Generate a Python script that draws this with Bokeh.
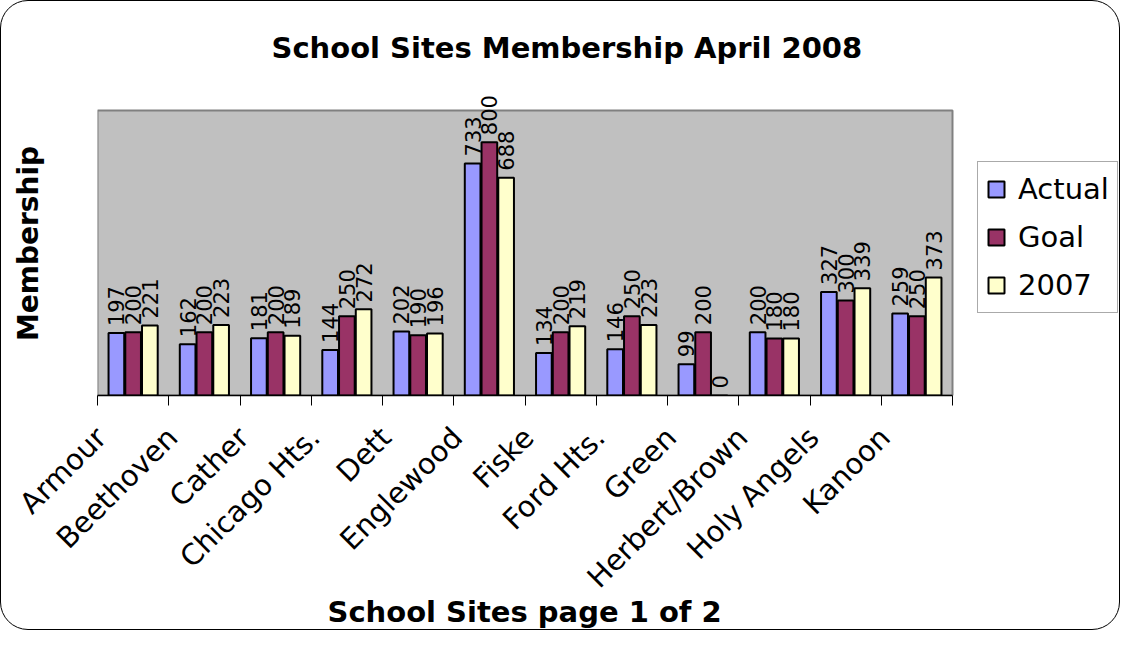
import math
from bokeh.plotting import figure
from bokeh.models import (Range1d, FixedTicker, LinearAxis, ColumnDataSource, LabelSet,
                          Legend, LegendItem, Title)
from bokeh.core.properties import value
from bokeh.embed import file_html
from bokeh.resources import INLINE

# ---- data ----
schools = ["Armour", "Beethoven", "Cather", "Chicago Hts.", "Dett", "Englewood",
           "Fiske", "Ford Hts.", "Green", "Herbert/Brown", "Holy Angels", "Kanoon"]
actual = [197, 162, 181, 144, 202, 733, 134, 146, 99, 200, 327, 259]
goal = [200, 200, 200, 250, 190, 800, 200, 250, 200, 180, 300, 250]
y2007 = [221, 223, 189, 272, 196, 688, 219, 223, 0, 180, 339, 373]
series_names = ["Actual", "Goal", "2007"]
series_values = [actual, goal, y2007]
series_colors = ["#9999FF", "#993366", "#FFFFCC"]

title_text = "School Sites Membership April 2008"
x_title = "School Sites page 1 of 2"
y_title = "Membership"
y_axis_max = 900      # top of the grey plot area
y_view_max = 960      # head-room so the "800" label is not clipped

# layout (pixels)
W, H = 1120, 630
left_px, top_px, bottom_px = 96, 88, 236
area_px = 855                      # width of the grey plot area
frame_px = W - left_px             # frame runs to the right edge (legend lives there)

n = len(schools)
x_view_max = n * frame_px / area_px
centers = [i + 0.5 for i in range(n)]
bar_w = 0.22
step = 0.235
label_shift = 0.45   # category text sits a bit left of the category centre

p = figure(width=W, height=H, x_range=Range1d(0, x_view_max), y_range=Range1d(0, y_view_max),
           output_backend="svg", toolbar_location=None, x_axis_location=None,
           min_border_left=left_px, min_border_right=0, min_border_top=top_px,
           min_border_bottom=bottom_px,
           background_fill_color=None, border_fill_color=None, outline_line_color=None)
p.styles = {"border": "1px solid #000000", "border-radius": "28px",
            "background-color": "white", "overflow": "hidden"}

p.xgrid.visible = False
p.ygrid.visible = False

# grey plot area
p.quad(left=[0], right=[n], bottom=[0], top=[y_axis_max], fill_color="#C0C0C0",
       line_color="#808080", line_width=2)

# title
p.title.text = title_text
p.title.text_font = "DejaVu Sans"
p.title.text_font_style = "bold"
p.title.text_font_size = "29px"
p.title.text_color = "black"
p.title.align = "left"
p.title.offset = 174
p.title.standoff = 54

# x axis: category names, tick marks between categories
p.extra_x_ranges = {"lbl": Range1d(label_shift, x_view_max + label_shift)}
la = LinearAxis(x_range_name="lbl", bounds=(label_shift, n + label_shift),
                ticker=FixedTicker(ticks=centers,
                                   minor_ticks=[i + label_shift for i in range(n + 1)]),
                major_label_overrides={c: s for c, s in zip(centers, schools)},
                major_label_orientation=math.pi / 4,
                major_label_standoff=27,
                major_label_text_font="DejaVu Sans",
                major_label_text_font_size="29px",
                major_label_text_color="black",
                axis_line_color="black", axis_line_width=1.5,
                major_tick_line_color=None, major_tick_out=0, major_tick_in=0,
                minor_tick_line_color="black", minor_tick_line_width=1,
                minor_tick_out=10, minor_tick_in=0)
p.add_layout(la, "below")

# x axis title, centred under the grey plot area
xt = Title(text=x_title, align="left", offset=230, standoff=-34,
           text_font="DejaVu Sans", text_font_style="bold", text_font_size="29px",
           text_color="black")
p.add_layout(xt, "below")

# y axis: no ticks, only title
ya = p.yaxis[0]
ya.ticker = FixedTicker(ticks=[], minor_ticks=[])
ya.axis_line_color = None
ya.major_tick_line_color = None
ya.minor_tick_line_color = None
ya.axis_label = y_title
ya.axis_label_text_font = "DejaVu Sans"
ya.axis_label_text_font_style = "bold"
ya.axis_label_text_font_size = "28px"
ya.axis_label_text_color = "black"
ya.axis_label_standoff = 53

# bars + data labels
items = []
for k, (name, vals, col) in enumerate(zip(series_names, series_values, series_colors)):
    off = (k - 1) * step
    src = ColumnDataSource(dict(x=[c + off for c in centers], top=vals,
                                txt=[str(v) for v in vals]))
    r = p.vbar(x="x", top="top", width=bar_w, source=src, fill_color=col,
               line_color="black", line_width=2)
    items.append(LegendItem(label=name, renderers=[r]))
    p.add_layout(LabelSet(x="x", y="top", text="txt", source=src, angle=90, angle_units="deg",
                          text_align="left", text_baseline="middle", y_offset=7,
                          text_font=value("DejaVu Sans"), text_font_size="21px",
                          text_color="black"))

lg = Legend(items=items, location=(880, 82),
            label_text_font="DejaVu Sans", label_text_font_size="29px",
            label_text_color="black", glyph_width=20, glyph_height=20,
            label_standoff=12, label_height=38, spacing=10, padding=8, margin=0,
            border_line_color="#555555", border_line_width=1,
            background_fill_color="white", background_fill_alpha=1.0)
p.add_layout(lg, "center")

open("out.html", "w").write(file_html(p, INLINE))
